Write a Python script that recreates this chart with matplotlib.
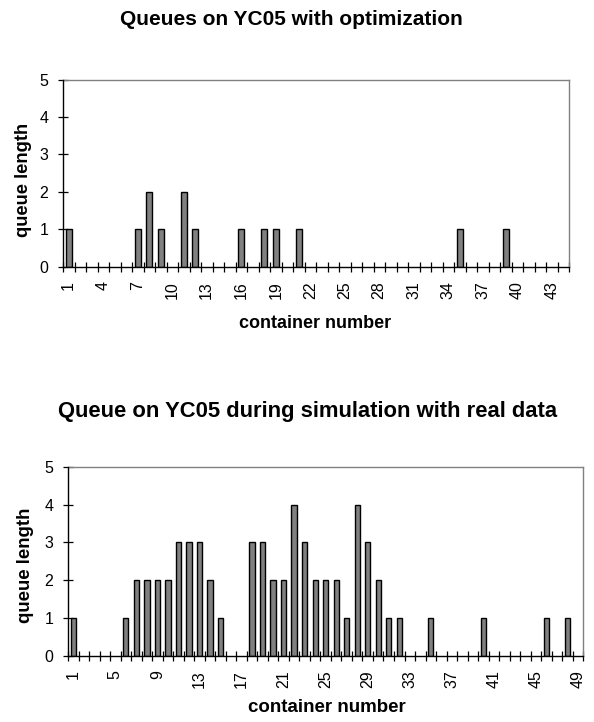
import matplotlib
matplotlib.use("Agg")
import matplotlib.pyplot as plt
import numpy as np

plt.rcParams["font.family"] = ["Liberation Sans", "DejaVu Sans"]

# ── Data ────────────────────────────────────────────────────────────────
top_title = "Queues on YC05 with optimization"
top_n = 44
top_containers = [1, 7, 8, 9, 11, 12, 16, 18, 19, 21, 35, 39]
top_queue = [1, 1, 2, 1, 2, 1, 1, 1, 1, 1, 1, 1]
top_labels = list(range(1, 44, 3))

bot_title = "Queue on YC05 during simulation with real data"
bot_n = 49
bot_containers = [1, 6, 7, 8, 9, 10, 11, 12, 13, 14, 15, 18, 19, 20, 21,
                  22, 23, 24, 25, 26, 27, 28, 29, 30, 31, 32, 35, 40, 46, 48]
bot_queue = [1, 1, 2, 2, 2, 2, 3, 3, 3, 2, 1, 3, 3, 2, 2,
             4, 3, 2, 2, 2, 1, 4, 3, 2, 1, 1, 1, 1, 1, 1]
bot_labels = list(range(1, 50, 4))

y_ticks = [0, 1, 2, 3, 4, 5]
x_title = "container number"
y_title = "queue length"

W, H = 594, 722


def px(x, y):
    """pixel position (from top-left) -> figure fraction"""
    return x / W, 1 - y / H


def draw(ax, n, cats, vals, labels):
    ax.bar(cats, vals, width=0.5, color="#808080", edgecolor="black",
           linewidth=1.0, zorder=3)
    ax.set_xlim(0.5, n + 0.5)
    ax.set_ylim(0, 5)

    # labelled categories (no mark) + boundary tick marks
    ax.set_xticks(labels)
    ax.set_xticklabels([str(v) for v in labels], rotation=90,
                       fontsize=11.5, va="top", ha="center")
    ax.tick_params(axis="x", which="major", length=0, pad=10.5)
    ax.set_xticks(np.arange(0.5, n + 1, 1.0), minor=True)
    ax.tick_params(axis="x", which="minor", direction="inout",
                   length=7, width=0.9, color="black")

    ax.set_yticks(y_ticks)
    ax.tick_params(axis="y", direction="inout", length=7, width=0.9,
                   labelsize=11.5, pad=7)

    for side in ("top", "right"):
        ax.spines[side].set_color("#808080")
        ax.spines[side].set_linewidth(1.0)
    for side in ("left", "bottom"):
        ax.spines[side].set_color("black")
        ax.spines[side].set_linewidth(1.0)
        ax.spines[side].set_zorder(4)


fig = plt.figure(figsize=(W / 100, H / 100), dpi=100)
ax1 = fig.add_axes([63 / W, 1 - 266.7 / H, 506 / W, 187 / H])
ax2 = fig.add_axes([68 / W, 1 - 656 / H, 515.3 / W, 189.3 / H])

draw(ax1, top_n, top_containers, top_queue, top_labels)
draw(ax2, bot_n, bot_containers, bot_queue, bot_labels)

bold = dict(fontweight="bold", color="black")
fig.text(*px(291, 25), top_title, fontsize=15, ha="center", va="baseline", **bold)
fig.text(*px(308, 416.5), bot_title, fontsize=15.8, ha="center", va="baseline", **bold)
fig.text(*px(315, 328), x_title, fontsize=13, ha="center", va="baseline", **bold)
fig.text(*px(327, 712), x_title, fontsize=13.5, ha="center", va="baseline", **bold)
fig.text(*px(24, 180), y_title, fontsize=13.2, rotation=90,
         ha="center", va="center", **bold)
fig.text(*px(26, 565), y_title, fontsize=13.4, rotation=90,
         ha="center", va="center", **bold)

fig.savefig("out.png", dpi=100, facecolor="white")
